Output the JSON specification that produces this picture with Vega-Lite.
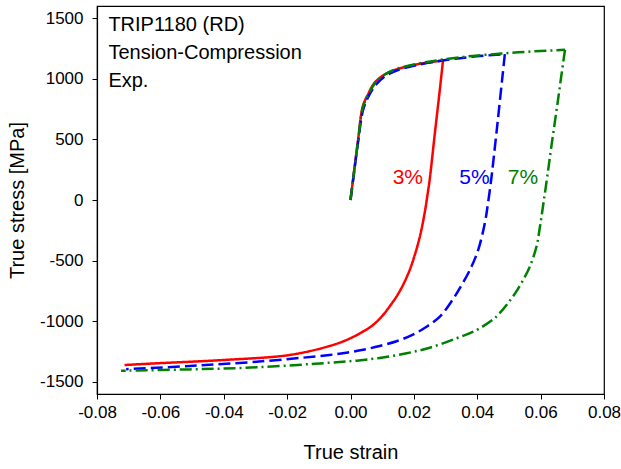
{
  "$schema": "https://vega.github.io/schema/vega-lite/v6.json",
  "width": 507,
  "height": 388,
  "autosize": {"type": "none"},
  "padding": {"left": 97, "top": 6, "right": 17, "bottom": 75},
  "background": "white",
  "config": {
    "font": "Liberation Sans",
    "view": {"stroke": "black", "strokeWidth": 1.2},
    "axis": {"grid": false, "domainColor": "black", "tickColor": "black", "labelColor": "black", "titleColor": "black", "labelFont": "Liberation Sans", "titleFont": "Liberation Sans", "labelFontSize": 17, "titleFontSize": 20, "titleFontWeight": "normal", "tickSize": 5, "domainWidth": 1.2, "tickWidth": 1}
  },
  "datasets": {
    "curves": [
      {"series": "3%", "seg": "3L", "i": 1, "strain": 0, "stress": 0},
      {"series": "3%", "seg": "3L", "i": 2, "strain": 0.0008, "stress": 168},
      {"series": "3%", "seg": "3L", "i": 3, "strain": 0.0024, "stress": 498},
      {"series": "3%", "seg": "3L", "i": 4, "strain": 0.0039, "stress": 774},
      {"series": "3%", "seg": "3L", "i": 5, "strain": 0.0055, "stress": 870},
      {"series": "3%", "seg": "3L", "i": 6, "strain": 0.0076, "stress": 967},
      {"series": "3%", "seg": "3L", "i": 7, "strain": 0.0108, "stress": 1035},
      {"series": "3%", "seg": "3L", "i": 8, "strain": 0.0145, "stress": 1077},
      {"series": "3%", "seg": "3L", "i": 9, "strain": 0.0208, "stress": 1118},
      {"series": "3%", "seg": "3L", "i": 10, "strain": 0.0292, "stress": 1150},
      {"series": "3%", "seg": "3U", "i": 11, "strain": 0.0292, "stress": 1150},
      {"series": "3%", "seg": "3U", "i": 12, "strain": 0.0282, "stress": 912},
      {"series": "3%", "seg": "3U", "i": 13, "strain": 0.0264, "stress": 498},
      {"series": "3%", "seg": "3U", "i": 14, "strain": 0.025, "stress": 170},
      {"series": "3%", "seg": "3U", "i": 15, "strain": 0.0244, "stress": 60},
      {"series": "3%", "seg": "3U", "i": 16, "strain": 0.0234, "stress": -107},
      {"series": "3%", "seg": "3U", "i": 17, "strain": 0.0219, "stress": -301},
      {"series": "3%", "seg": "3U", "i": 18, "strain": 0.0203, "stress": -452},
      {"series": "3%", "seg": "3U", "i": 19, "strain": 0.0187, "stress": -576},
      {"series": "3%", "seg": "3U", "i": 20, "strain": 0.0166, "stress": -700},
      {"series": "3%", "seg": "3U", "i": 21, "strain": 0.0145, "stress": -797},
      {"series": "3%", "seg": "3U", "i": 22, "strain": 0.0129, "stress": -858},
      {"series": "3%", "seg": "3U", "i": 23, "strain": 0.0103, "stress": -948},
      {"series": "3%", "seg": "3U", "i": 24, "strain": 0.0071, "stress": -1031},
      {"series": "3%", "seg": "3U", "i": 25, "strain": 0.0039, "stress": -1086},
      {"series": "3%", "seg": "3U", "i": 26, "strain": -0.0013, "stress": -1155},
      {"series": "3%", "seg": "3U", "i": 27, "strain": -0.0066, "stress": -1204},
      {"series": "3%", "seg": "3U", "i": 28, "strain": -0.0192, "stress": -1278},
      {"series": "3%", "seg": "3U", "i": 29, "strain": -0.0403, "stress": -1320},
      {"series": "3%", "seg": "3U", "i": 30, "strain": -0.0613, "stress": -1347},
      {"series": "3%", "seg": "3U", "i": 31, "strain": -0.0713, "stress": -1361},

      {"series": "5%", "seg": "5L", "i": 1, "strain": 0, "stress": 0},
      {"series": "5%", "seg": "5L", "i": 2, "strain": 0.0008, "stress": 160},
      {"series": "5%", "seg": "5L", "i": 3, "strain": 0.0024, "stress": 480},
      {"series": "5%", "seg": "5L", "i": 4, "strain": 0.004, "stress": 745},
      {"series": "5%", "seg": "5L", "i": 5, "strain": 0.0058, "stress": 860},
      {"series": "5%", "seg": "5L", "i": 6, "strain": 0.008, "stress": 950},
      {"series": "5%", "seg": "5L", "i": 7, "strain": 0.011, "stress": 1022},
      {"series": "5%", "seg": "5L", "i": 8, "strain": 0.015, "stress": 1072},
      {"series": "5%", "seg": "5L", "i": 9, "strain": 0.021, "stress": 1112},
      {"series": "5%", "seg": "5L", "i": 10, "strain": 0.029, "stress": 1150},
      {"series": "5%", "seg": "5L", "i": 11, "strain": 0.038, "stress": 1180},
      {"series": "5%", "seg": "5L", "i": 12, "strain": 0.0487, "stress": 1203},
      {"series": "5%", "seg": "5U", "i": 13, "strain": 0.0487, "stress": 1203},
      {"series": "5%", "seg": "5U", "i": 14, "strain": 0.0483, "stress": 1104},
      {"series": "5%", "seg": "5U", "i": 15, "strain": 0.0464, "stress": 636},
      {"series": "5%", "seg": "5U", "i": 16, "strain": 0.0449, "stress": 280},
      {"series": "5%", "seg": "5U", "i": 17, "strain": 0.0444, "stress": 168},
      {"series": "5%", "seg": "5U", "i": 18, "strain": 0.0434, "stress": -25},
      {"series": "5%", "seg": "5U", "i": 19, "strain": 0.0424, "stress": -190},
      {"series": "5%", "seg": "5U", "i": 20, "strain": 0.0403, "stress": -411},
      {"series": "5%", "seg": "5U", "i": 21, "strain": 0.0377, "stress": -576},
      {"series": "5%", "seg": "5U", "i": 22, "strain": 0.0345, "stress": -727},
      {"series": "5%", "seg": "5U", "i": 23, "strain": 0.0322, "stress": -824},
      {"series": "5%", "seg": "5U", "i": 24, "strain": 0.0282, "stress": -962},
      {"series": "5%", "seg": "5U", "i": 25, "strain": 0.024, "stress": -1045},
      {"series": "5%", "seg": "5U", "i": 26, "strain": 0.0197, "stress": -1110},
      {"series": "5%", "seg": "5U", "i": 27, "strain": 0.0145, "stress": -1165},
      {"series": "5%", "seg": "5U", "i": 28, "strain": 0.0092, "stress": -1204},
      {"series": "5%", "seg": "5U", "i": 29, "strain": 0.004, "stress": -1235},
      {"series": "5%", "seg": "5U", "i": 30, "strain": -0.0013, "stress": -1259},
      {"series": "5%", "seg": "5U", "i": 31, "strain": -0.0066, "stress": -1278},
      {"series": "5%", "seg": "5U", "i": 32, "strain": -0.0297, "stress": -1334},
      {"series": "5%", "seg": "5U", "i": 33, "strain": -0.0508, "stress": -1369},
      {"series": "5%", "seg": "5U", "i": 34, "strain": -0.0708, "stress": -1395},

      {"series": "7%", "seg": "7L", "i": 1, "strain": 0, "stress": 0},
      {"series": "7%", "seg": "7L", "i": 2, "strain": 0.0008, "stress": 165},
      {"series": "7%", "seg": "7L", "i": 3, "strain": 0.0024, "stress": 490},
      {"series": "7%", "seg": "7L", "i": 4, "strain": 0.0039, "stress": 765},
      {"series": "7%", "seg": "7L", "i": 5, "strain": 0.0056, "stress": 868},
      {"series": "7%", "seg": "7L", "i": 6, "strain": 0.0077, "stress": 962},
      {"series": "7%", "seg": "7L", "i": 7, "strain": 0.0108, "stress": 1035},
      {"series": "7%", "seg": "7L", "i": 8, "strain": 0.0145, "stress": 1080},
      {"series": "7%", "seg": "7L", "i": 9, "strain": 0.0208, "stress": 1122},
      {"series": "7%", "seg": "7L", "i": 10, "strain": 0.029, "stress": 1158},
      {"series": "7%", "seg": "7L", "i": 11, "strain": 0.0385, "stress": 1188},
      {"series": "7%", "seg": "7L", "i": 12, "strain": 0.0482, "stress": 1209},
      {"series": "7%", "seg": "7L", "i": 13, "strain": 0.058, "stress": 1226},
      {"series": "7%", "seg": "7L", "i": 14, "strain": 0.0677, "stress": 1239},
      {"series": "7%", "seg": "7U", "i": 15, "strain": 0.0677, "stress": 1239},
      {"series": "7%", "seg": "7U", "i": 16, "strain": 0.0672, "stress": 1150},
      {"series": "7%", "seg": "7U", "i": 17, "strain": 0.0655, "stress": 828},
      {"series": "7%", "seg": "7U", "i": 18, "strain": 0.0634, "stress": 443},
      {"series": "7%", "seg": "7U", "i": 19, "strain": 0.0621, "stress": 195},
      {"series": "7%", "seg": "7U", "i": 20, "strain": 0.0609, "stress": -25},
      {"series": "7%", "seg": "7U", "i": 21, "strain": 0.0598, "stress": -218},
      {"series": "7%", "seg": "7U", "i": 22, "strain": 0.0587, "stress": -383},
      {"series": "7%", "seg": "7U", "i": 23, "strain": 0.0566, "stress": -549},
      {"series": "7%", "seg": "7U", "i": 24, "strain": 0.0545, "stress": -659},
      {"series": "7%", "seg": "7U", "i": 25, "strain": 0.0522, "stress": -760},
      {"series": "7%", "seg": "7U", "i": 26, "strain": 0.0497, "stress": -850},
      {"series": "7%", "seg": "7U", "i": 27, "strain": 0.047, "stress": -935},
      {"series": "7%", "seg": "7U", "i": 28, "strain": 0.045, "stress": -985},
      {"series": "7%", "seg": "7U", "i": 29, "strain": 0.0398, "stress": -1072},
      {"series": "7%", "seg": "7U", "i": 30, "strain": 0.0335, "stress": -1140},
      {"series": "7%", "seg": "7U", "i": 31, "strain": 0.025, "stress": -1218},
      {"series": "7%", "seg": "7U", "i": 32, "strain": 0.0177, "stress": -1264},
      {"series": "7%", "seg": "7U", "i": 33, "strain": 0.0092, "stress": -1303},
      {"series": "7%", "seg": "7U", "i": 34, "strain": 0.0019, "stress": -1325},
      {"series": "7%", "seg": "7U", "i": 35, "strain": -0.0066, "stress": -1342},
      {"series": "7%", "seg": "7U", "i": 36, "strain": -0.0297, "stress": -1380},
      {"series": "7%", "seg": "7U", "i": 37, "strain": -0.0508, "stress": -1397},
      {"series": "7%", "seg": "7U", "i": 38, "strain": -0.0724, "stress": -1408}
    ],
    "labels": [
      {"series": "3%", "strain": 0.0181, "stress": 184},
      {"series": "5%", "strain": 0.0391, "stress": 184},
      {"series": "7%", "strain": 0.0544, "stress": 184}
    ],
    "info": [
      {"text": "TRIP1180 (RD)", "strain": -0.0764, "stress": 1393},
      {"text": "Tension-Compression", "strain": -0.0764, "stress": 1164},
      {"text": "Exp.", "strain": -0.0764, "stress": 934}
    ]
  },
  "layer": [
    {
      "data": {"name": "curves"},
      "mark": {"type": "line", "strokeWidth": 2.5, "clip": true, "interpolate": "catmull-rom"},
      "encoding": {
        "x": {"field": "strain", "type": "quantitative",
          "scale": {"domain": [-0.08, 0.08], "nice": false, "zero": false},
          "axis": {"title": "True strain", "values": [-0.08, -0.06, -0.04, -0.02, 0, 0.02, 0.04, 0.06, 0.08], "labelExpr": "replace(format(datum.value, '.2f'), '\u2212', '-')", "labelPadding": 5, "titlePadding": 22, "labelFlush": false}},
        "y": {"field": "stress", "type": "quantitative",
          "scale": {"domain": [-1600, 1600], "nice": false, "zero": false},
          "axis": {"title": "True stress [MPa]", "values": [-1500, -1000, -500, 0, 500, 1000, 1500], "labelExpr": "replace(format(datum.value, 'd'), '\u2212', '-')", "labelPadding": 9, "titlePadding": 12, "labelFlush": false}},
        "color": {"field": "series", "type": "nominal", "legend": null,
          "scale": {"domain": ["3%", "5%", "7%"], "range": ["#ff0000", "#0000ff", "#008000"]}},
        "strokeDash": {"field": "series", "type": "nominal", "legend": null,
          "scale": {"domain": ["3%", "5%", "7%"], "range": [[1, 0], [12, 5], [12, 4, 2, 4]]}},
        "detail": {"field": "seg", "type": "nominal"},
        "order": {"field": "i", "type": "quantitative"}
      }
    },
    {
      "data": {"name": "labels"},
      "mark": {"type": "text", "fontSize": 21, "align": "center", "baseline": "middle", "font": "Liberation Sans"},
      "encoding": {
        "x": {"field": "strain", "type": "quantitative"},
        "y": {"field": "stress", "type": "quantitative"},
        "text": {"field": "series"},
        "color": {"field": "series", "type": "nominal", "legend": null}
      }
    },
    {
      "data": {"name": "info"},
      "mark": {"type": "text", "fontSize": 20, "align": "left", "baseline": "alphabetic", "font": "Liberation Sans", "color": "black"},
      "encoding": {
        "x": {"field": "strain", "type": "quantitative"},
        "y": {"field": "stress", "type": "quantitative"},
        "text": {"field": "text"}
      }
    }
  ]
}
